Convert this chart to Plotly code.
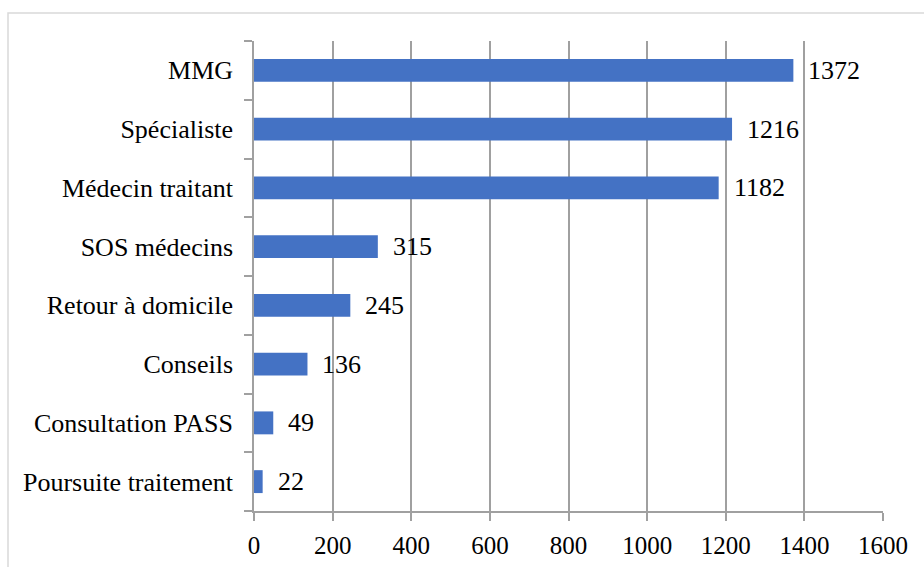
import plotly.graph_objects as go

categories = ["Poursuite traitement", "Consultation PASS", "Conseils",
              "Retour à domicile", "SOS médecins", "Médecin traitant",
              "Spécialiste", "MMG"]
values = [22, 49, 136, 245, 315, 1182, 1216, 1372]
x_ticks = [0, 200, 400, 600, 800, 1000, 1200, 1400, 1600]

FONT = "Liberation Serif"
GRID = "#a0a0a0"

fig = go.Figure(go.Bar(
    x=values, y=categories, orientation="h",
    marker=dict(color="#4472C4", line=dict(width=0)),
    hoverinfo="x+y",
))

# value labels beside each bar
for v, c in zip(values, categories):
    fig.add_annotation(x=v, y=c, text=str(v), showarrow=False,
                       xanchor="left", xshift=13,
                       font=dict(family=FONT, size=26, color="#000000"))

# light frame around the chart
fig.add_shape(type="rect", xref="paper", yref="paper",
              x0=-246 / 629, x1=1.2, y0=-0.2, y1=1 + 28 / 470,
              line=dict(color="#d9d9d9", width=1.5), fillcolor="rgba(0,0,0,0)",
              layer="below")

fig.update_layout(
    width=924, height=567,
    margin=dict(l=254, r=41, t=41, b=56),
    paper_bgcolor="white", plot_bgcolor="white",
    bargap=0.61,
    showlegend=False,
    font=dict(family=FONT, size=24, color="#000000"),
    xaxis=dict(range=[0, 1600], tickvals=x_ticks, ticktext=[str(t) for t in x_ticks],
               showgrid=True, gridcolor=GRID, gridwidth=1.5,
               showline=True, linecolor=GRID, linewidth=1.5,
               ticks="outside", ticklen=8, tickcolor=GRID, tickwidth=1.5,
               zeroline=False, tickfont=dict(family=FONT, size=25),
               ticklabelstandoff=3, automargin=False),
    yaxis=dict(type="category", categoryorder="array", categoryarray=categories,
               showgrid=False, showline=True, linecolor=GRID, linewidth=1.5,
               ticks="outside", ticklen=8, tickcolor=GRID, tickwidth=1.5,
               tickson="boundaries", ticklabelstandoff=14,
               tickfont=dict(family=FONT, size=26), automargin=False),
)

fig.write_html("out.html")
